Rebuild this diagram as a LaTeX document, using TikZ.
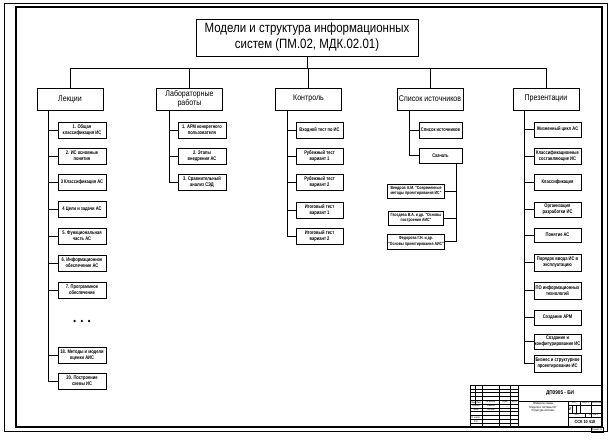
\documentclass[tikz,border=0pt]{standalone}
\usepackage{fontspec}
\newfontfamily\gost{Liberation Sans}[FakeStretch=0.85]
\newfontfamily\gostn{Liberation Sans}[FakeStretch=0.78]
\begin{document}
\begin{tikzpicture}[x=1pt,y=-1pt,
  cbox/.style={draw,line width=0.65pt,inner sep=0pt,align=center,font=\gostn\bfseries\fontsize{5.2}{5.9}\selectfont},
  sbox/.style={draw,line width=0.65pt,inner sep=0pt,align=center,font=\gostn\bfseries\fontsize{4.5}{5.3}\selectfont},
  hbox/.style={draw,line width=0.75pt,inner sep=0pt,align=center,minimum width=66pt,minimum height=22pt,font=\gost\fontsize{8.3}{9.5}\selectfont},
  conn/.style={line width=0.65pt},
  stl/.style={line width=0.35pt},
  stk/.style={line width=0.7pt},
  stt/.style={inner sep=0pt,font=\gost\fontsize{2.6}{3}\selectfont}]
\useasboundingbox (0,0) rectangle (612,439);
\fill[white] (0,0) rectangle (612,439);
% frames
\draw[line width=0.5pt] (4,3) rectangle (607,431);
\draw[line width=1.1pt] (16,7) rectangle (602,427);

% title
\node[draw,line width=0.75pt,minimum width=222pt,minimum height=37pt,inner sep=0pt,align=center,
  font=\gost\fontsize{13.5}{16}\selectfont] (title) at (307,37.5)
  {Модели и структура информационных\\систем (ПМ.02, МДК.02.01)};

% level 1
\node[hbox] (lek) at (70,99) {Лекции};
\node[hbox] (lab) at (189.5,99) {Лабораторные\\работы};
\node[hbox] (kon) at (308.5,99) {Контроль};
\node[hbox] (spi) at (430,99) {Список источников};
\node[hbox] (pres) at (546,99) {Презентации};

\coordinate (busc) at (307,68);
\draw[conn] (title.south) -- (busc);
\draw[conn] (lek.north |- busc) -- (pres.north |- busc);
\foreach \n in {lek,lab,kon,spi,pres} \draw[conn] (\n.north) -- (\n.north |- busc);

% Лекции
\begin{scope}[every node/.append style={cbox,minimum width=48pt,minimum height=16pt}]
\node (l1) at (82,130) {1. Общая\\классификация ИС};
\node (l2) at (82,156) {2. ИС основные\\понятия};
\node (l3) at (82,182) {3 Классификация АС};
\node (l4) at (82,209) {4 Цели и задачи АС};
\node (l5) at (82,236) {5. Функциональная\\часть АС};
\node (l6) at (82,263) {6. Информационное\\обеспечение АС};
\node (l7) at (82,290) {7. Программное\\обеспечение};
\node (l8) at (82,355.5) {18. Методы и модели\\оценки АИС};
\node (l9) at (82,381) {20. Построение\\схемы ИС};
\end{scope}
\node[inner sep=0pt,font=\gost\fontsize{9}{10}\selectfont] (ldots) at (82,322) {•\,\,\,•\,\,\,•};
\coordinate (lekv) at (48,110);
\draw[conn] (lekv) |- (l9.west);
\foreach \n in {l1,l2,l3,l4,l5,l6,l7,l8} \draw[conn] (\n.west) -- (\n.west -| lekv);

% Лабораторные
\begin{scope}[every node/.append style={cbox,minimum width=48pt,minimum height=16pt}]
\node (b1) at (202,130) {1. АРМ конкретного\\пользователя};
\node (b2) at (202,156) {2. Этапы\\внедрения АС};
\node (b3) at (202,182) {3. Сравнительный\\анализ СЭД};
\end{scope}
\coordinate (labv) at (169,110);
\draw[conn] (labv) |- (b3.west);
\foreach \n in {b1,b2} \draw[conn] (\n.west) -- (\n.west -| labv);

% Контроль
\begin{scope}[every node/.append style={cbox,minimum width=47pt,minimum height=16pt}]
\node (k1) at (319.5,130) {Входной тест по ИС};
\node (k2) at (319.5,156) {Рубежный тест\\вариант 1};
\node (k3) at (319.5,182) {Рубежный тест\\вариант 2};
\node (k4) at (319.5,210) {Итоговый тест\\вариант 1};
\node (k5) at (319.5,236) {Итоговый тест\\вариант 2};
\end{scope}
\coordinate (konv) at (287,110);
\draw[conn] (konv) |- (k5.west);
\foreach \n in {k1,k2,k3,k4} \draw[conn] (\n.west) -- (\n.west -| konv);

% Список источников
\node[cbox,minimum width=43pt,minimum height=16pt] (s1) at (440.5,130) {Список источников};
\node[cbox,minimum width=43pt,minimum height=15pt] (s2) at (440.5,155.5) {Скачать};
\coordinate (spiv) at (409,110);
\draw[conn] (spiv) |- (s2.west);
\draw[conn] (s1.west) -- (s1.west -| spiv);
\node[sbox,minimum width=57pt,minimum height=14pt] (sa) at (416,191) {Вендров А.М. "Современные\\методы проектирования ИС"};
\node[sbox,minimum width=55pt,minimum height=14pt] (sb) at (416,218) {Гвоздева В.А. и др. "Основы\\построения АИС"};
\node[sbox,minimum width=57pt,minimum height=15pt] (sc) at (416,241.5) {Федорова Г.Н. и др.\\"Основы проектирования АИС"};
\coordinate (s2v) at (456,163);
\draw[conn] (s2v) |- (sc.east);
\foreach \n in {sa,sb} \draw[conn] (\n.east) -- (\n.east -| s2v);

% Презентации
\begin{scope}[every node/.append style={cbox,minimum width=47pt}]
\node[minimum height=15pt] (p1) at (557.5,129.5) {Жизненный цикл АС};
\node[minimum height=16pt] (p2) at (557.5,156) {Классификационные\\составляющие ИС};
\node[minimum height=16pt] (p3) at (557.5,182) {Классификация};
\node[minimum height=15pt] (p4) at (557.5,209.5) {Организация\\разработки ИС};
\node[minimum height=14pt] (p5) at (557.5,235) {Понятие АС};
\node[minimum height=17pt] (p6) at (557.5,262.5) {Порядок ввода ИС в\\эксплуатацию};
\node[minimum height=17pt] (p7) at (557.5,290.5) {ПО информационных\\технологий};
\node[minimum height=15pt] (p8) at (557.5,317.5) {Создание АРМ};
\node[minimum height=15pt] (p9) at (557.5,341.5) {Создание и\\конфигурирование ИС};
\node[minimum height=17pt] (p10) at (557.5,363.5) {Бизнес и структурное\\проектирование ИС};
\end{scope}
\coordinate (presv) at (524,110);
\draw[conn] (presv) |- (p10.west);
\foreach \n in {p1,p2,p3,p4,p5,p6,p7,p8,p9} \draw[conn] (\n.west) -- (\n.west -| presv);

% title block (stamp)
\draw[stk] (470,385) rectangle (602,427);
\foreach \yy in {388.8,392.6,396.4,400.2,404,407.8,411.6,415.4,419.2,423} \draw[stl] (470,\yy) -- (518,\yy);
\draw[stk] (470,404) -- (518,404);
\draw[stl] (475.2,385) -- (475.2,404);
\draw[stk] (482.6,385) -- (482.6,427);
\draw[stk] (499.6,385) -- (499.6,427);
\draw[stk] (510.7,385) -- (510.7,427);
\draw[stk] (518,385) -- (518,427);
\draw[stk] (518,401) -- (602,401);
\draw[stk] (568,401) -- (568,427);
\draw[stl] (568,405) -- (602,405);
\draw[stl] (568,413) -- (602,413);
\draw[stk] (568,417) -- (602,417);
\draw[stl] (580,401) -- (580,413);
\draw[stl] (591,401) -- (591,417);
\draw[stl] (572,405) -- (572,413);
\draw[stl] (576,405) -- (576,413);
\draw[stl] (585,413) -- (585,417);
\draw[line width=0.4pt] (591,427) rectangle (603,432);

\node[stt,font=\gost\bfseries\fontsize{5.5}{6}\selectfont] (des) at (560,393) {ДП0905 - БИ};
\node[stt,align=center,font=\gost\fontsize{3}{3.6}\selectfont] (nm) at (543,407.5) {Элементы схемы\\"Модели и системы ИС"\\Структура системы};
\node[stt] (t1) at (474,402.2) {Изм.};
\node[stt] (t2) at (478.9,402.2) {Лист};
\node[stt] (t3) at (491,402.2) {№ докум.};
\node[stt] (t4) at (505,402.2) {Подп.};
\node[stt] (t5) at (514.3,402.2) {Дата};
\node[stt] (t6) at (476,406) {Разраб.};
\node[stt] (t7) at (491,406) {Иванов};
\node[stt] (t8) at (476,409.8) {Пров.};
\node[stt] (t9) at (491,409.8) {Петров};
\node[stt] (t10) at (476,417.4) {Н. контр.};
\node[stt] (t11) at (476,421.2) {Утв.};
\node[stt] (t12) at (574,403) {Лит.};
\node[stt] (t13) at (585.5,403) {Масса};
\node[stt] (t14) at (596.5,403) {Масштаб};
\node[stt,font=\gost\fontsize{4}{4.5}\selectfont] (t15) at (570,409) {И};
\node[stt] (t16) at (576.5,415) {Лист};
\node[stt] (t17) at (593.5,415) {Листов 1};
\node[stt,font=\gost\bfseries\fontsize{4.5}{5}\selectfont] (t18) at (585,422) {ССК 10 418};
\node[stt,font=\gost\fontsize{2.4}{3}\selectfont] (t19) at (597,429.5) {Формат А3};
\end{tikzpicture}
\end{document}
